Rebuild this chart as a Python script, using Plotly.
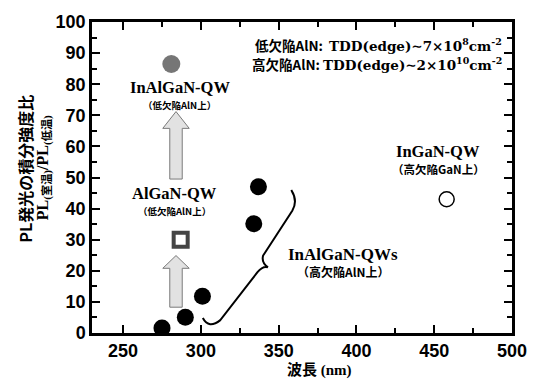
import plotly.graph_objects as go

# --- data ---
wl_high = [275, 290, 301, 334, 337]          # InAlGaN-QWs on high-defect AlN
ratio_high = [1.6, 5.1, 11.8, 35.1, 47.0]
wl_inalgan_low = [281]                         # InAlGaN-QW on low-defect AlN
ratio_inalgan_low = [86.5]
wl_algan_low = [287]                           # AlGaN-QW on low-defect AlN
ratio_algan_low = [30]
wl_ingan = [458]                               # InGaN-QW on high-defect GaN
ratio_ingan = [43]

x_ticks = [250, 300, 350, 400, 450, 500]
y_ticks = [0, 10, 20, 30, 40, 50, 60, 70, 80, 90, 100]

SERIF = "Liberation Serif, Noto Sans CJK JP"
CJK = "Noto Sans CJK JP"

fig = go.Figure()

# arrows (drawn first, under markers)
def arrow(y_bottom, y_base, y_tip, xc=284.0, hw=4.0, hh=8.5):
    return (f"M {xc-hw},{y_bottom} L {xc-hw},{y_base} L {xc-hh},{y_base} L {xc},{y_tip} "
            f"L {xc+hh},{y_base} L {xc+hw},{y_base} L {xc+hw},{y_bottom} Z")

for yb, ybase, ytip in [(49.5, 65.8, 71.2), (8.3, 20.8, 24.9)]:
    fig.add_shape(type="path", path=arrow(yb, ybase, ytip), xref="x", yref="y",
                  fillcolor="#e2e2e2", line=dict(color="#7a7a7a", width=1), layer="below")

# curly brace
brace = ("M 301.25,4.8 Q 305,1.2 312.5,4.15 L 336.25,19.5 Q 340,21.7 343.1,21.1 "
         "Q 338.75,22.7 340,24.9 L 358.75,39.3 Q 362.5,42.5 358.1,46.0")
fig.add_shape(type="path", path=brace, xref="x", yref="y",
              line=dict(color="black", width=2))

fig.add_trace(go.Scatter(x=wl_high, y=ratio_high, mode="markers",
                         marker=dict(size=17, color="black"), showlegend=False))
fig.add_trace(go.Scatter(x=wl_inalgan_low, y=ratio_inalgan_low, mode="markers",
                         marker=dict(size=18, color="#767676"), showlegend=False))
fig.add_trace(go.Scatter(x=wl_algan_low, y=ratio_algan_low, mode="markers",
                         marker=dict(size=14, symbol="square", color="white",
                                     line=dict(color="#444444", width=4)), showlegend=False))
fig.add_trace(go.Scatter(x=wl_ingan, y=ratio_ingan, mode="markers",
                         marker=dict(size=15, color="white",
                                     line=dict(color="black", width=1.5)), showlegend=False))

def label(x, y, text, size, family=SERIF, xanchor="center"):
    fig.add_annotation(x=x, y=y, xref="x", yref="y", text=text, showarrow=False,
                       font=dict(family=family, size=size, color="black"),
                       xanchor=xanchor, yanchor="middle")

label(286.3, 78.9, "<b>InAlGaN-QW</b>", 16.5)
label(286.3, 73.3, "<b>（低欠陥AlN上）</b>", 9.5, family=CJK)
label(283.0, 45.0, "<b>AlGaN-QW</b>", 16.5)
label(283.0, 39.3, "<b>（低欠陥AlN上）</b>", 9.5, family=CJK)
label(452.5, 58.5, "<b>InGaN-QW</b>", 16.5)
label(452.5, 52.7, "<b>（高欠陥GaN上）</b>", 11.5, family=CJK)
label(391.5, 25.2, "<b>InAlGaN-QWs</b>", 17)
label(391.5, 19.9, "<b>（高欠陥AlN上）</b>", 12, family=CJK)

tdd1 = ("<b>低欠陥AlN:  <span style=\"font-family:DejaVu Serif\">TDD(edge)∼7×10<sup>8</sup>cm<sup>-2</sup></span></b>")
tdd2 = ("<b>高欠陥AlN: <span style=\"font-family:DejaVu Serif\">TDD(edge)∼2×10<sup>10</sup>cm<sup>-2</sup></span></b>")
label(495, 92.7, tdd1, 13.5, family=CJK, xanchor="right")
label(495, 86.6, tdd2, 13.5, family=CJK, xanchor="right")

# axis titles
L, R, T, B = 92, 17, 20, 47
pw, ph = 539 - L - R, 380 - T - B
fig.add_annotation(x=(23 - L) / pw, y=(380 - B - 168) / ph, xref="paper", yref="paper",
                   text="<b>PL発光の積分強度比</b>", textangle=-90, showarrow=False,
                   font=dict(family=CJK, size=16, color="black"),
                   xanchor="center", yanchor="middle")
fig.add_annotation(x=(43 - L) / pw, y=(380 - B - 167) / ph, xref="paper", yref="paper",
                   text="<b>PL<sub>(室温)</sub>/PL<sub>(低温)</sub></b>", textangle=-90,
                   showarrow=False, font=dict(family=SERIF, size=16, color="black"),
                   xanchor="center", yanchor="middle")
fig.add_annotation(x=(325 - L) / pw, y=(380 - B - 370) / ph, xref="paper", yref="paper",
                   text="<b>波長 (nm)</b>", showarrow=False,
                   font=dict(family=SERIF, size=15, color="black"),
                   xanchor="center", yanchor="middle")

axis_common = dict(showline=True, linecolor="black", linewidth=2.5, mirror="ticks",
                   ticks="inside", ticklen=8, tickwidth=2, tickcolor="black",
                   showgrid=False, zeroline=False,
                   tickfont=dict(family="Liberation Sans", size=18, color="black", weight="bold"))

fig.update_xaxes(range=[230, 500], tickvals=x_ticks,
                 minor=dict(ticks="inside", ticklen=5, tickwidth=2, tickcolor="black", dtick=25, tick0=225,
                            showgrid=False),
                 **axis_common)
fig.update_yaxes(range=[0, 100], tickvals=y_ticks,
                 minor=dict(ticks="inside", ticklen=5, tickwidth=2, tickcolor="black", dtick=5, tick0=0,
                            showgrid=False),
                 **axis_common)

fig.update_layout(width=539, height=380, margin=dict(l=L, r=R, t=T, b=B),
                  plot_bgcolor="white", paper_bgcolor="white")

fig.write_html("out.html")
